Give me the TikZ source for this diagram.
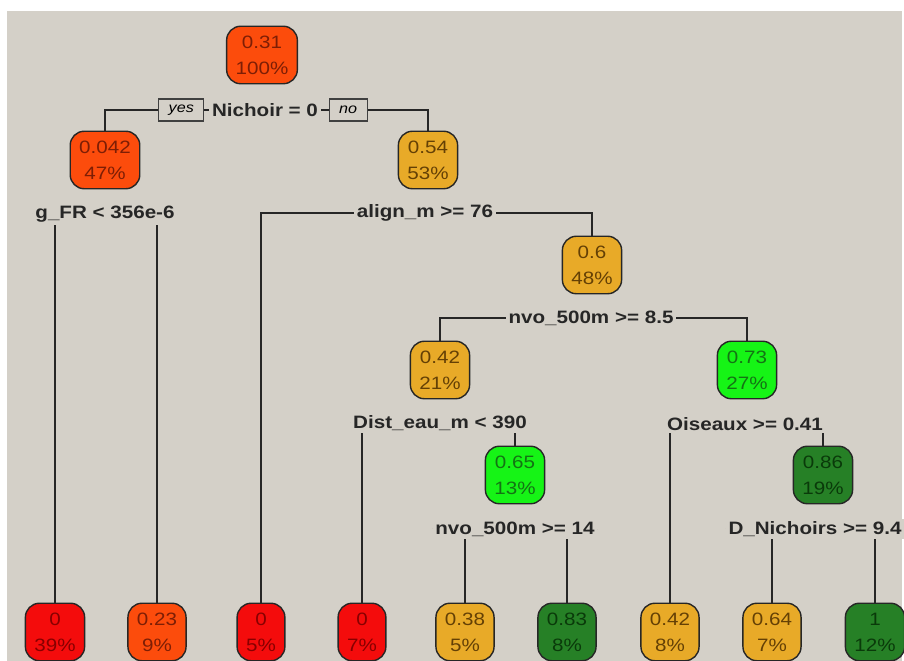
\documentclass[tikz,border=0pt]{standalone}
\usepackage{fontspec}
\setmainfont{Liberation Sans}[FakeStretch=1.15]
\usetikzlibrary{backgrounds,positioning}

\definecolor{panelgrey}{RGB}{212,208,200}
\definecolor{rpOrange}{RGB}{252,76,12}
\definecolor{rpOrangeT}{RGB}{125,30,5}
\definecolor{rpRed}{RGB}{244,12,12}
\definecolor{rpRedT}{RGB}{135,0,0}
\definecolor{rpGold}{RGB}{232,170,40}
\definecolor{rpGoldT}{RGB}{100,64,5}
\definecolor{rpLime}{RGB}{22,244,22}
\definecolor{rpLimeT}{RGB}{20,115,20}
\definecolor{rpDark}{RGB}{38,128,38}
\definecolor{rpDarkT}{RGB}{10,58,10}

\begin{document}
\begin{tikzpicture}
  [
  x=0.02cm, y=-0.02cm,
  tnode/.style={draw=black!85, line width=0.8pt, rounded corners=8pt, align=center, inner xsep=0.18cm, inner ysep=0pt, minimum height=1.15cm, font=\fontsize{10.2}{14.7}\selectfont},
  orbox/.style={tnode, fill=rpOrange, text=rpOrangeT},
  redbox/.style={tnode, fill=rpRed, text=rpRedT},
  goldbox/.style={tnode, fill=rpGold, text=rpGoldT},
  limebox/.style={tnode, fill=rpLime, text=rpLimeT},
  darkbox/.style={tnode, fill=rpDark, text=rpDarkT},
  splitlbl/.style={fill=panelgrey, inner sep=1.5pt, outer sep=0pt, text=black!85, font=\fontsize{10.2}{12}\selectfont\bfseries},
  yesno/.style={draw=black!75, line width=0.6pt, fill=panelgrey, inner xsep=0.2cm, inner ysep=0pt, minimum height=0.44cm, font=\fontsize{8}{9}\selectfont\itshape},
  branch/.style={draw=black!85, line width=0.8pt}
  ]
  \useasboundingbox (0,0) rectangle (904,661);

  % inner nodes and splits
  \node[orbox] (n1) at (262,55) {0.31\\100\%};
  \node[splitlbl] (s1) at (265,110) {Nichoir = 0};
  \node[yesno, left=0.1cm of s1] (yes) {yes};
  \node[yesno, right=0.16cm of s1] (no) {no};
  \node[orbox] (n2) at (105,160) {0.042\\47\%};
  \node[goldbox] (n3) at (428,160) {0.54\\53\%};
  \node[splitlbl] (s2) at (105,214) {g\_FR < 356e-6};
  \node[splitlbl] (s3) at (425,213) {align\_m >= 76};
  \node[goldbox] (n4) at (592,265) {0.6\\48\%};
  \node[splitlbl] (s4) at (591,318) {nvo\_500m >= 8.5};
  \node[goldbox] (n5) at (440,370) {0.42\\21\%};
  \node[limebox] (n6) at (747,370) {0.73\\27\%};
  \node[splitlbl] (s5) at (440,423) {Dist\_eau\_m < 390};
  \node[splitlbl] (s6) at (745,424) {Oiseaux >= 0.41};
  \node[limebox] (n7) at (515,475) {0.65\\13\%};
  \node[darkbox] (n8) at (823,475) {0.86\\19\%};
  \node[splitlbl] (s7) at (515,529) {nvo\_500m >= 14};
  \node[splitlbl] (s8) at (815,529) {D\_Nichoirs >= 9.4};

  % leaves
  \node[redbox] (l1) at (55,632) {0\\39\%};
  \node[orbox] (l2) at (157,632) {0.23\\9\%};
  \node[redbox] (l3) at (261,632) {0\\5\%};
  \node[redbox] (l4) at (362,632) {0\\7\%};
  \node[goldbox] (l5) at (465,632) {0.38\\5\%};
  \node[darkbox] (l6) at (567,632) {0.83\\8\%};
  \node[goldbox] (l7) at (670,632) {0.42\\8\%};
  \node[goldbox] (l8) at (772,632) {0.64\\7\%};
  \node[darkbox] (l9) at (875,632) {1\\12\%};

  \begin{scope}[on background layer]
    \fill[white] (0,0) rectangle (904,661);
    \fill[panelgrey] (7,11) rectangle (902,661);
    \draw[branch] (s1) -| (n2);
    \draw[branch] (s1) -| (n3);
    \draw[branch] (s2) -| (l1);
    \draw[branch] (s2) -| (l2);
    \draw[branch] (s3) -| (l3);
    \draw[branch] (s3) -| (n4);
    \draw[branch] (s4) -| (n5);
    \draw[branch] (s4) -| (n6);
    \draw[branch] (s5) -| (l4);
    \draw[branch] (s5) -| (n7);
    \draw[branch] (s6) -| (l7);
    \draw[branch] (s6) -| (n8);
    \draw[branch] (s7) -| (l5);
    \draw[branch] (s7) -| (l6);
    \draw[branch] (s8) -| (l8);
    \draw[branch] (s8) -| (l9);
  \end{scope}
\end{tikzpicture}
\end{document}
